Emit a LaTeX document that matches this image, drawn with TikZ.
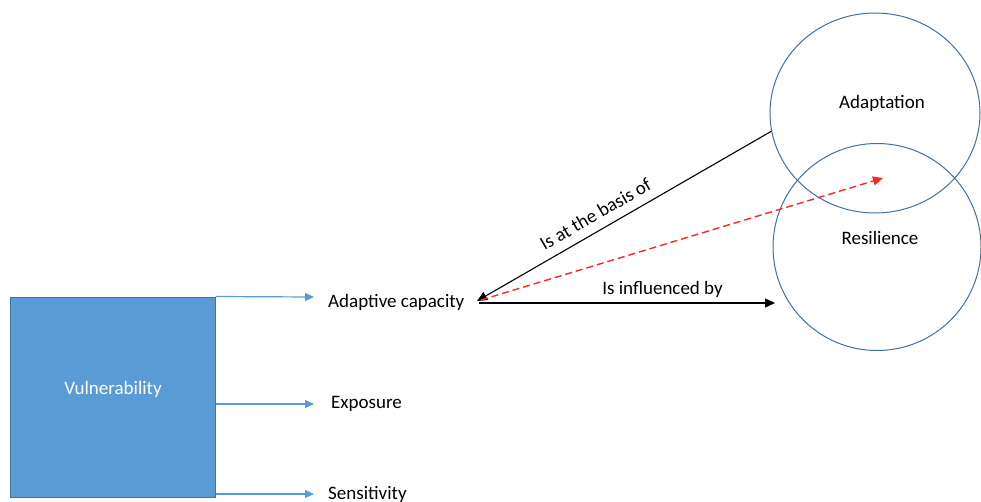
\documentclass[tikz,border=0pt]{standalone}
\usepackage{fontspec}
\setmainfont{Carlito}
\usetikzlibrary{shapes.geometric,arrows.meta}
\definecolor{boxblue}{RGB}{91,155,213}
\definecolor{boxedge}{RGB}{65,113,156}
\definecolor{arrblue}{RGB}{91,155,213}
\tikzset{
  lbl/.style={font=\fontsize{19}{21}\selectfont, inner sep=0pt},
  ring/.style={ellipse, draw=boxedge, line width=1pt, inner sep=0pt},
  bluearr/.style={draw=arrblue, line width=1.2pt, -{Triangle[length=9pt,width=8pt]}},
  blackarr/.style={draw=black, line width=1.3pt, -{Triangle[length=10pt,width=9pt]}},
}
\begin{document}
\begin{tikzpicture}[x=1pt,y=-1pt]
\useasboundingbox (0,0) rectangle (981,501);
% vulnerability box
\node[draw=boxedge, fill=boxblue, line width=1pt, minimum width=205pt, minimum height=200pt, inner sep=0pt] (vul) at (112.5,397) {};
\node[lbl, text=white] (vultext) at (113,389) {Vulnerability};
% texts
\node[lbl, anchor=west] (ac) at (328,302) {Adaptive capacity};
\node[lbl, anchor=west] (ex) at (331,404) {Exposure};
\node[lbl, anchor=west] (se) at (328,494) {Sensitivity};
% blue arrows
\coordinate (a1) at (314,297);
\coordinate (a2) at (314,404);
\coordinate (a3) at (314,494);
\draw[bluearr] (vul.north east) -- (a1);
\draw[bluearr] (vul.east |- a2) -- (a2);
\draw[bluearr] (vul.east |- a3) -- (a3);
% circles
\node[ring, minimum width=210pt, minimum height=200pt] (adapt) at (875,113) {};
\node[ring, minimum width=208pt, minimum height=207pt] (resil) at (877,247) {};
\node[lbl] (adtext) at (882,103) {Adaptation};
\node[lbl] (retext) at (880,238) {Resilience};
% connectors
\coordinate (tip) at (477,301);
\coordinate (redend) at (883,178);
\coordinate (infend) at (775,303);
\draw[line width=1.1pt, -{Triangle[length=10pt,width=9pt]}] (adapt.190) -- node[lbl, sloped, above=9pt, pos=0.57] (basis) {Is at the basis of} (tip);
\draw[red!85!white, dash pattern=on 7pt off 4pt, line width=1.4pt, -{Triangle[length=10pt,width=9pt]}] (tip) ++(4,-1) -- (redend);
\draw[blackarr] (tip) ++(2,2) -- node[lbl, above=5pt, pos=0.62] (infl) {Is influenced by} (infend);
\end{tikzpicture}
\end{document}
